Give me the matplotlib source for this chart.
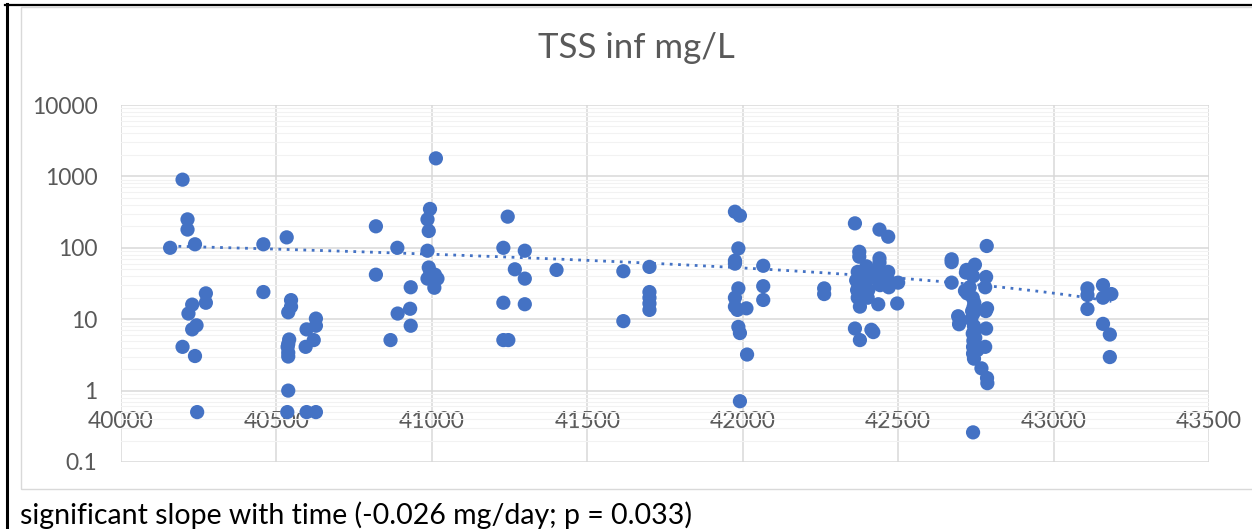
import numpy as np
import matplotlib.pyplot as plt
from matplotlib.lines import Line2D
from matplotlib.patches import Rectangle
from matplotlib.ticker import FixedLocator, NullFormatter

plt.rcParams['font.family'] = ['Lato', 'DejaVu Sans']

# sample dates (Excel serial days) and TSS influent values (mg/L)
dates = [
    40158, 40198, 40214, 40214, 40238, 40273, 40273, 40229, 40217, 40243, 40229, 40198, 40238, 40245,
    40458, 40458, 40533, 40547, 40547, 40538, 40541, 40538, 40536, 40538, 40538, 40538, 40535,
    40597, 40627, 40627, 40627, 40597, 40620, 40594,
    40820, 40820, 40889, 40867, 40890, 40932, 40930, 40932,
    40994, 40986, 40990, 40986, 40990, 41010, 40986, 41018, 41008, 41013, 40995,
    41244, 41230, 41230, 41230, 41246, 41299, 41267, 41299, 41299, 41401,
    41616, 41616, 41700, 41700, 41700, 41700, 41700,
    41975, 41991, 41986, 41975, 41975, 41986, 41975, 41975, 41983, 42012, 41986, 41991, 42014, 41991,
    42066, 42066, 42066, 42262, 42262,
    42361, 42375, 42375, 42370, 42365, 42372, 42368, 42370, 42377, 42361, 42377,
    42398, 42404, 42400, 42404, 42402, 42414, 42420,
    42440, 42440, 42440, 42436, 42440, 42442, 42438, 42436,
    42468, 42468, 42470, 42470, 42466, 42500, 42497,
    42672, 42672, 42672, 42693, 42698, 42696,
    42720, 42718, 42747, 42741, 42730, 42722, 42715, 42740, 42745, 42743, 42738, 42742, 42735,
    42744, 42746, 42740, 42748, 42742, 42745, 42741, 42755, 42741, 42744, 42741,
    42785, 42783, 42780, 42786, 42782, 42783, 42780, 42768, 42786, 42787,
    43109, 43109, 43109, 43159, 43159, 43186, 43159, 43181, 43181,
]
tss = [
    100, 900, 250, 180, 112, 23, 17, 16, 12, 8.2, 7.2, 4.1, 3.05, 0.5,
    112, 24, 140, 18.5, 15, 12.5, 5.2, 4.5, 4.1, 3.4, 3.0, 1.0, 0.5,
    0.5, 0.5, 10.2, 8.1, 7.2, 5.1, 4.1,
    200, 42, 100, 5.1, 12, 28, 14, 8.1,
    350, 250, 172, 91, 53, 42, 37, 37, 27.6, 1790, 45,
    273, 100, 17, 5.1, 5.1, 91, 50, 37, 16.2, 49,
    47, 9.4, 54, 24, 20, 16.6, 13.5,
    320, 282, 98, 66, 60, 27, 20, 15, 13.5, 14.2, 7.8, 6.4, 3.2, 0.71,
    56, 29, 18.6, 27, 22.5,
    220, 88, 75, 46, 35, 28, 25.6, 20, 15, 7.4, 5.1,
    55, 44, 35, 25.6, 20, 7.1, 6.6,
    180, 71, 62, 50, 39, 30, 35, 16.2,
    143, 46, 34, 28, 30, 32.5, 16.6,
    69, 63, 32.5, 11, 9.2, 8.5,
    49, 45, 58, 40, 28, 23, 25, 20, 17, 15, 13, 12, 10,
    8, 7, 6.3, 5.5, 5, 4.6, 4.1, 3.7, 3.3, 2.8, 0.26,
    106, 39, 28, 14.2, 13, 7.4, 4.1, 2.05, 1.5, 1.27,
    27, 21.8, 13.9, 30, 20, 22.5, 8.6, 6.1, 2.95,
]
x_ticks = [40000, 40500, 41000, 41500, 42000, 42500, 43000, 43500]
y_ticks = [0.1, 1, 10, 100, 1000, 10000]
y_labels = ['0.1', '1', '10', '100', '1000', '10000']

dates = np.array(dates, dtype=float)
tss = np.array(tss, dtype=float)

fig = plt.figure(figsize=(12.52, 5.29), dpi=100)
ax = fig.add_axes([121 / 1252, 1 - 462 / 529, (1209 - 121) / 1252, (462 - 105) / 529])

ax.set_yscale('log')
ax.set_xlim(40000, 43500)
ax.set_ylim(0.1, 10000)

# gridlines like Excel: light minor, grey major
minor = [m * 10.0 ** e for e in range(-1, 4) for m in range(2, 10)]
ax.yaxis.set_minor_locator(FixedLocator(minor))
ax.yaxis.set_minor_formatter(NullFormatter())
ax.set_yticks(y_ticks)
ax.set_yticklabels(y_labels)
ax.set_xticks(x_ticks)
ax.grid(which='minor', axis='y', color='#F2F2F2', lw=0.8, zorder=0)
ax.grid(which='major', axis='both', color='#D9D9D9', lw=1.1, zorder=0.5)
ax.set_axisbelow(True)

for s in ax.spines.values():
    s.set_visible(False)
# horizontal axis crosses at y = 1
ax.spines['bottom'].set_position(('data', 1))
ax.tick_params(axis='both', which='both', length=0, labelsize=16.5, colors='#595959')
ax.tick_params(axis='x', pad=15)
ax.tick_params(axis='y', pad=17)

ax.scatter(dates, tss, s=105, color='#4472C4', edgecolors='none', zorder=3)

# linear trendline (mg/day), drawn over the data range on the log axis
k, b = np.polyfit(dates, tss, 1)
xt = np.linspace(dates.min(), dates.max(), 200)
ax.plot(xt, b + k * xt, color='#4472C4', lw=2.0, ls=(0, (1, 2)), zorder=4)

fig.text(636 / 1252, 1 - 48 / 529, 'TSS inf mg/L', ha='center', va='center',
         fontsize=25, color='#595959')
fig.text(20 / 1252, 1 - 524 / 529, 'significant slope with time (-0.026 mg/day; p = 0.033)',
         ha='left', va='baseline', fontsize=20.5, color='black')

# chart border and the surrounding cell lines
fig.add_artist(Rectangle((21 / 1252, 1 - 489 / 529), 1.1, (489 - 7) / 529,
                         transform=fig.transFigure, fill=False, ec='#D9D9D9', lw=1))
fig.add_artist(Line2D([5 / 1252, 1], [1 - 5 / 529] * 2, transform=fig.transFigure,
                      color='black', lw=1.6))
fig.add_artist(Line2D([6.5 / 1252] * 2, [0, 1 - 4 / 529], transform=fig.transFigure,
                      color='black', lw=2.2))

fig.savefig('out.png', dpi=100)
